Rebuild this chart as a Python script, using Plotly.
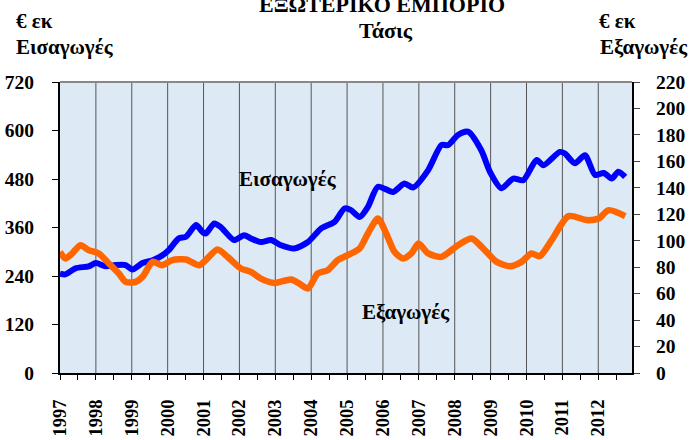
import plotly.graph_objects as go

# --- data (year fraction, value) ---
imp_x = [1997.0, 1997.15, 1997.43, 1997.80, 1998.0, 1998.27, 1998.55, 1998.83, 1999.02, 1999.30,
         1999.58, 1999.85, 2000.03, 2000.31, 2000.51, 2000.79, 2000.97, 2001.06, 2001.30, 2001.48,
         2001.85, 2002.13, 2002.32, 2002.60, 2002.88, 2003.16, 2003.53, 2003.91, 2004.28, 2004.65,
         2004.93, 2005.11, 2005.35, 2005.58, 2005.86, 2006.28, 2006.60, 2006.84, 2007.26, 2007.63,
         2007.82, 2008.09, 2008.37, 2008.74, 2008.98, 2009.30, 2009.63, 2009.91, 2010.28, 2010.47,
         2010.93, 2011.07, 2011.35, 2011.63, 2011.91, 2012.15, 2012.38, 2012.56, 2012.75]
imp_y = [246, 244, 259, 264, 272, 264, 267, 267, 256, 272,
         279, 291, 304, 333, 337, 366, 349, 345, 370, 361,
         329, 341, 333, 324, 329, 316, 308, 324, 358, 374,
         407, 403, 386, 411, 461, 448, 469, 459, 502, 564,
         564, 589, 597, 551, 498, 457, 481, 477, 527, 514,
         547, 543, 519, 539, 490, 495, 481, 498, 485]

exp_x = [1997.0, 1997.15, 1997.34, 1997.57, 1997.80, 1998.08, 1998.36, 1998.64, 1998.83, 1999.11,
         1999.30, 1999.58, 1999.85, 2000.13, 2000.51, 2000.88, 2001.06, 2001.39, 2001.67, 2002.04,
         2002.32, 2002.60, 2002.97, 2003.44, 2003.67, 2003.91, 2004.18, 2004.46, 2004.74, 2005.02,
         2005.35, 2005.58, 2005.86, 2006.09, 2006.32, 2006.56, 2006.79, 2006.99, 2007.26, 2007.63,
         2008.09, 2008.47, 2008.75, 2009.17, 2009.54, 2009.86, 2010.14, 2010.37, 2010.70, 2011.17,
         2011.68, 2012.01, 2012.29, 2012.75]
exp_y = [91.6, 86.6, 90.4, 96.6, 92.9, 90.4, 82.8, 75.2, 68.9, 68.9,
         72.7, 84.0, 81.5, 85.3, 85.8, 81.5, 85.3, 93.4, 87.8, 79.0,
         76.4, 71.4, 68.1, 70.7, 67.6, 63.9, 75.2, 77.7, 85.3, 89.1,
         94.1, 105.5, 116.8, 105.5, 91.6, 86.6, 90.4, 97.9, 90.4, 87.8,
         96.6, 101.7, 95.4, 84.0, 80.7, 84.0, 90.4, 88.3, 100.4, 118.6,
         115.6, 116.8, 123.1, 118.6]

years = list(range(1997, 2013))
left_ticks = [0, 120, 240, 360, 480, 600, 720]
right_ticks = list(range(0, 221, 20))

FONT = "Liberation Serif, Times New Roman, serif"

fig = go.Figure()
fig.add_trace(go.Scatter(x=imp_x, y=imp_y, mode="lines", name="Εισαγωγές",
                         line=dict(color="#0000ff", width=6, shape="spline", smoothing=0.7),
                         yaxis="y"))
fig.add_trace(go.Scatter(x=exp_x, y=exp_y, mode="lines", name="Εξαγωγές",
                         line=dict(color="#ff6600", width=6.5, shape="spline", smoothing=0.7),
                         yaxis="y2"))

tickvals = []
ticktext = []
for y in years:
    tickvals += [y, y + 0.5]
    ticktext += [str(y), ""]

fig.update_layout(
    width=693, height=440,
    margin=dict(l=59.5, r=61.3, t=82, b=67.3, autoexpand=False),
    paper_bgcolor="white", plot_bgcolor="#dde9f5",
    showlegend=False,
    font=dict(family=FONT, size=17, color="black"),
    xaxis=dict(range=[1997, 2012.94], tickmode="array", tickvals=tickvals, ticktext=ticktext,
               tickangle=-90, ticks="outside", ticklen=5, tickcolor="black", automargin=False,
               showgrid=False, showline=True, linecolor="black", linewidth=2,
               tickfont=dict(family=FONT, size=18.5, weight="bold"), ticklabelstandoff=12,
               zeroline=False),
    yaxis=dict(range=[0, 720], tickvals=left_ticks, ticks="outside", ticklen=6, tickcolor="black",
               showgrid=False, showline=True, linecolor="black", linewidth=2, zeroline=False,
               automargin=False,
               tickfont=dict(family=FONT, size=19.5, weight="bold"), ticklabelstandoff=14),
    yaxis2=dict(range=[0, 220], tickvals=right_ticks, ticks="outside", ticklen=6, tickcolor="#444",
                overlaying="y", side="right", showgrid=False, showline=True, linecolor="black",
                linewidth=2, zeroline=False, automargin=False,
                tickfont=dict(family=FONT, size=19.5, weight="bold"), ticklabelstandoff=12),
)

# vertical year gridlines
for y in years[1:]:
    fig.add_shape(type="line", xref="x", yref="paper", x0=y, x1=y, y0=0, y1=1,
                  line=dict(color="#555555", width=1), layer="below")
# top border
fig.add_shape(type="line", xref="paper", yref="paper", x0=0, x1=1, y0=1, y1=1,
              line=dict(color="#888888", width=2))

def px(x):
    return (x - 59.5) / 572.2

def py(y):
    return (372.7 - y) / 290.7

ann = [
    ("ΕΞΩΤΕΡΙΚΟ ΕΜΠΟΡΙΟ", 382, 5, "center", 22),
    ("Τάσις", 386, 31, "center", 22),
    ("€ εκ", 13, 21, "left", 21),
    ("Εισαγωγές", 13, 47, "left", 21),
    ("€ εκ", 597, 21, "left", 21),
    ("Εξαγωγές", 598, 47, "left", 21),
    ("Εισαγωγές", 288, 179, "center", 21),
    ("Εξαγωγές", 406, 312, "center", 21),
]
for text, x, y, anc, sz in ann:
    fig.add_annotation(text=text, xref="paper", yref="paper", x=px(x), y=py(y),
                       xanchor=anc, yanchor="middle", showarrow=False,
                       font=dict(family=FONT, size=sz, weight="bold", color="black"))

fig.write_html("out.html", config={"displayModeBar": False},
               post_script="document.body.style.margin='0';")
